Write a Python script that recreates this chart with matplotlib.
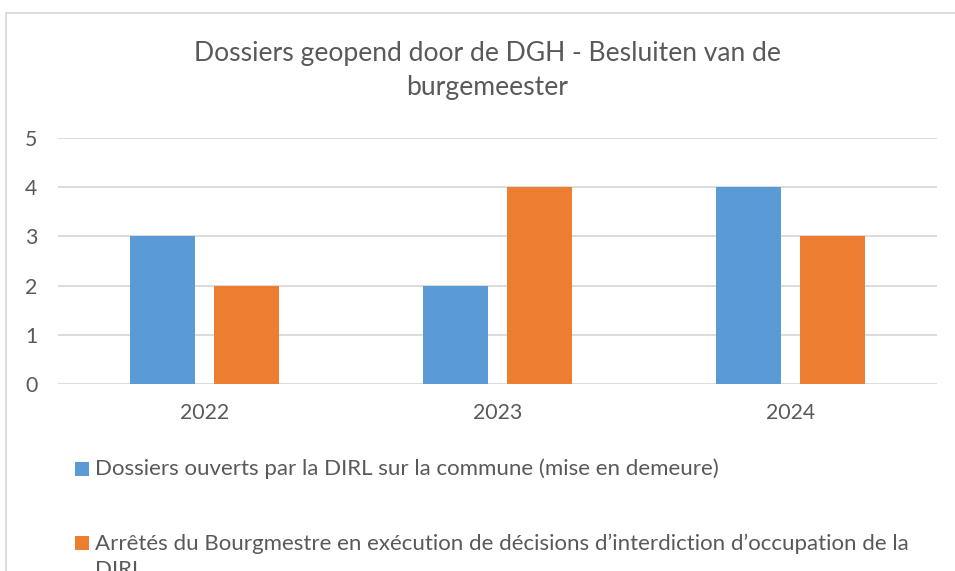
import matplotlib
matplotlib.use("Agg")
import matplotlib.pyplot as plt
from matplotlib.patches import Rectangle
import matplotlib.transforms as mtransforms

years = ["2022", "2023", "2024"]
dossiers = [3, 2, 4]
arretes = [2, 4, 3]
series_labels = [
    "Dossiers ouverts par la DIRL sur la commune (mise en demeure)",
    "Arrêtés du Bourgmestre en exécution de décisions d\u2019interdiction d\u2019occupation de la\nDIRL",
]
title = "Dossiers geopend door de DGH - Besluiten van de\nburgemeester"
yticks = [0, 1, 2, 3, 4, 5]

W, H = 955, 571
plt.rcParams['font.family'] = ['Lato', 'DejaVu Sans']
fig = plt.figure(figsize=(W / 100, H / 100), dpi=100)
fig.patch.set_facecolor("white")

# outer chart border
fig.patches.append(Rectangle((6 / W, -0.1), 1.2, (H - 13) / H + 0.1, transform=fig.transFigure,
                             fill=False, edgecolor="#D9D9D9", linewidth=1.3))

gray = "#595959"
ax = fig.add_axes([58 / W, 1 - 384 / H, (937 - 58) / W, (384 - 138) / H])
x = range(len(years))
bw = 0.222
off = 0.1425
ax.bar([i - off for i in x], dossiers, width=bw, color="#5B9BD5", zorder=3)
ax.bar([i + off for i in x], arretes, width=bw, color="#ED7D31", zorder=3)
ax.set_xlim(-0.5, 2.5)
ax.set_ylim(0, 5)
ax.set_yticks(yticks)
ax.set_xticks(list(x))
ax.set_xticklabels(years)
ax.yaxis.grid(True, color="#D9D9D9", linewidth=1.3, zorder=0)
ax.set_axisbelow(True)
for s in ax.spines.values():
    s.set_visible(False)
ax.tick_params(axis="both", length=0, labelsize=15.3, labelcolor=gray)
ax.tick_params(axis="x", pad=14)
ax.tick_params(axis="y", pad=0)
for lab in ax.get_yticklabels():
    lab.set_horizontalalignment("left")
    lab.set_transform(mtransforms.blended_transform_factory(fig.transFigure, ax.transData))
    lab.set_x(25 / W)

fig.text(487 / W, 1 - 71 / H, title, ha="center", va="center", fontsize=19.1, color=gray,
         linespacing=1.45)

# legend
colors = ["#5B9BD5", "#ED7D31"]
ys = [469, 543]
for c, lab, yy in zip(colors, series_labels, ys):
    fig.patches.append(Rectangle((75 / W, 1 - (yy + 7) / H), 14 / W, 14 / H, transform=fig.transFigure,
                                 facecolor=c, edgecolor="none"))
    if "\n" in lab:
        fig.text(95 / W, 1 - (yy - 9) / H, lab, ha="left", va="top",
                 fontsize=16, color=gray, linespacing=1.36)
    else:
        fig.text(95 / W, 1 - yy / H, lab, ha="left", va="center",
                 fontsize=16, color=gray)

fig.savefig("out.png", dpi=100)
